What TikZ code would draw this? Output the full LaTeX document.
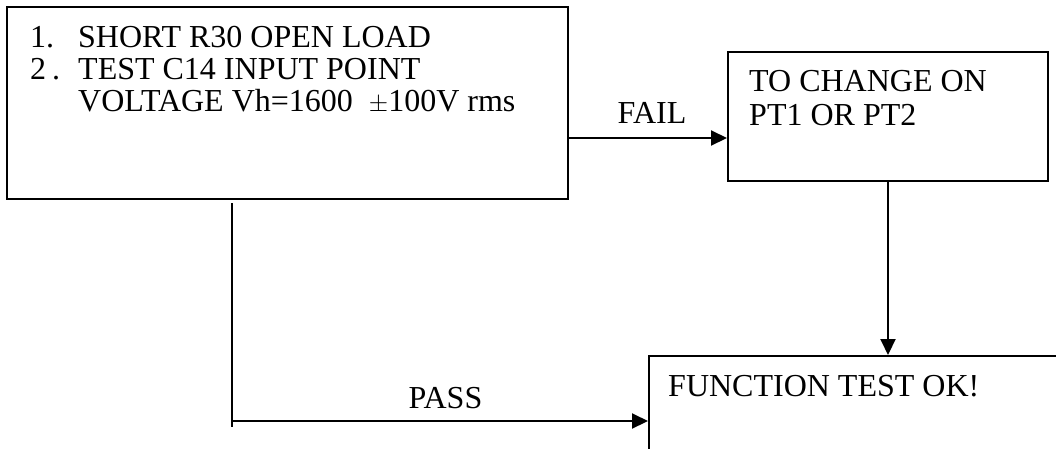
\documentclass[tikz,border=0pt]{standalone}
\usepackage{fontspec}
\setmainfont{Liberation Serif}
\usetikzlibrary{arrows.meta}

\begin{document}
\begin{tikzpicture}[x=1pt, y=-1pt,
  every node/.style={font=\fontsize{32}{34}\selectfont},
  stepbox/.style={draw, line width=2pt, rectangle, inner sep=0pt},
  txt/.style={anchor=base west, inner sep=0pt},
  lbl/.style={anchor=base, inner sep=0pt},
  flow/.style={line width=2pt},
  arr/.style={flow, -{Triangle[length=16pt, width=15pt]}}]
\useasboundingbox (0,0) rectangle (1056,448);
\clip (0,0) rectangle (1056,448);

% process boxes
\node[stepbox, minimum width=561pt, minimum height=192pt] (test) at (287.5,103) {};
\node[stepbox, minimum width=320pt, minimum height=129pt] (change) at (888,116.5) {};
\node[stepbox, minimum width=430pt, minimum height=130pt, anchor=north west] (ok) at (648,355) {};

% box texts
\node[txt] (n1) at (30,47) {1.};
\node[txt] (t1) at (78,47) {SHORT R30 OPEN LOAD};
\node[txt] (n2) at (30,79) {2\kern6pt.};
\node[txt] (t2) at (78,79) {TEST C14 INPUT POINT};
\node[txt] (t3) at (78,111) {VOLTAGE Vh=1600\ \ $\pm$100V rms};
\node[txt] (c1) at (749,91) {TO CHANGE ON};
\node[txt] (c2) at (749,125) {PT1 OR PT2};
\node[txt] (o1) at (668,396) {FUNCTION TEST OK!};

% fail branch
\coordinate (failY) at (0,138);
\draw[arr] (test.east |- failY) -- (change.west |- failY);
\node[lbl] (fail) at (652,123) {FAIL};

% retest after change
\draw[arr] (change.south) -- (change.south |- ok.north);

% pass branch
\coordinate (passTop) at (232,203);
\coordinate (passBot) at (232,427);
\coordinate (passY) at (232,421);
\draw[flow] (passTop) -- (passBot);
\draw[arr] (passY) -- (ok.west |- passY);
\node[lbl] (pass) at (445.5,408) {PASS};
\end{tikzpicture}
\end{document}
